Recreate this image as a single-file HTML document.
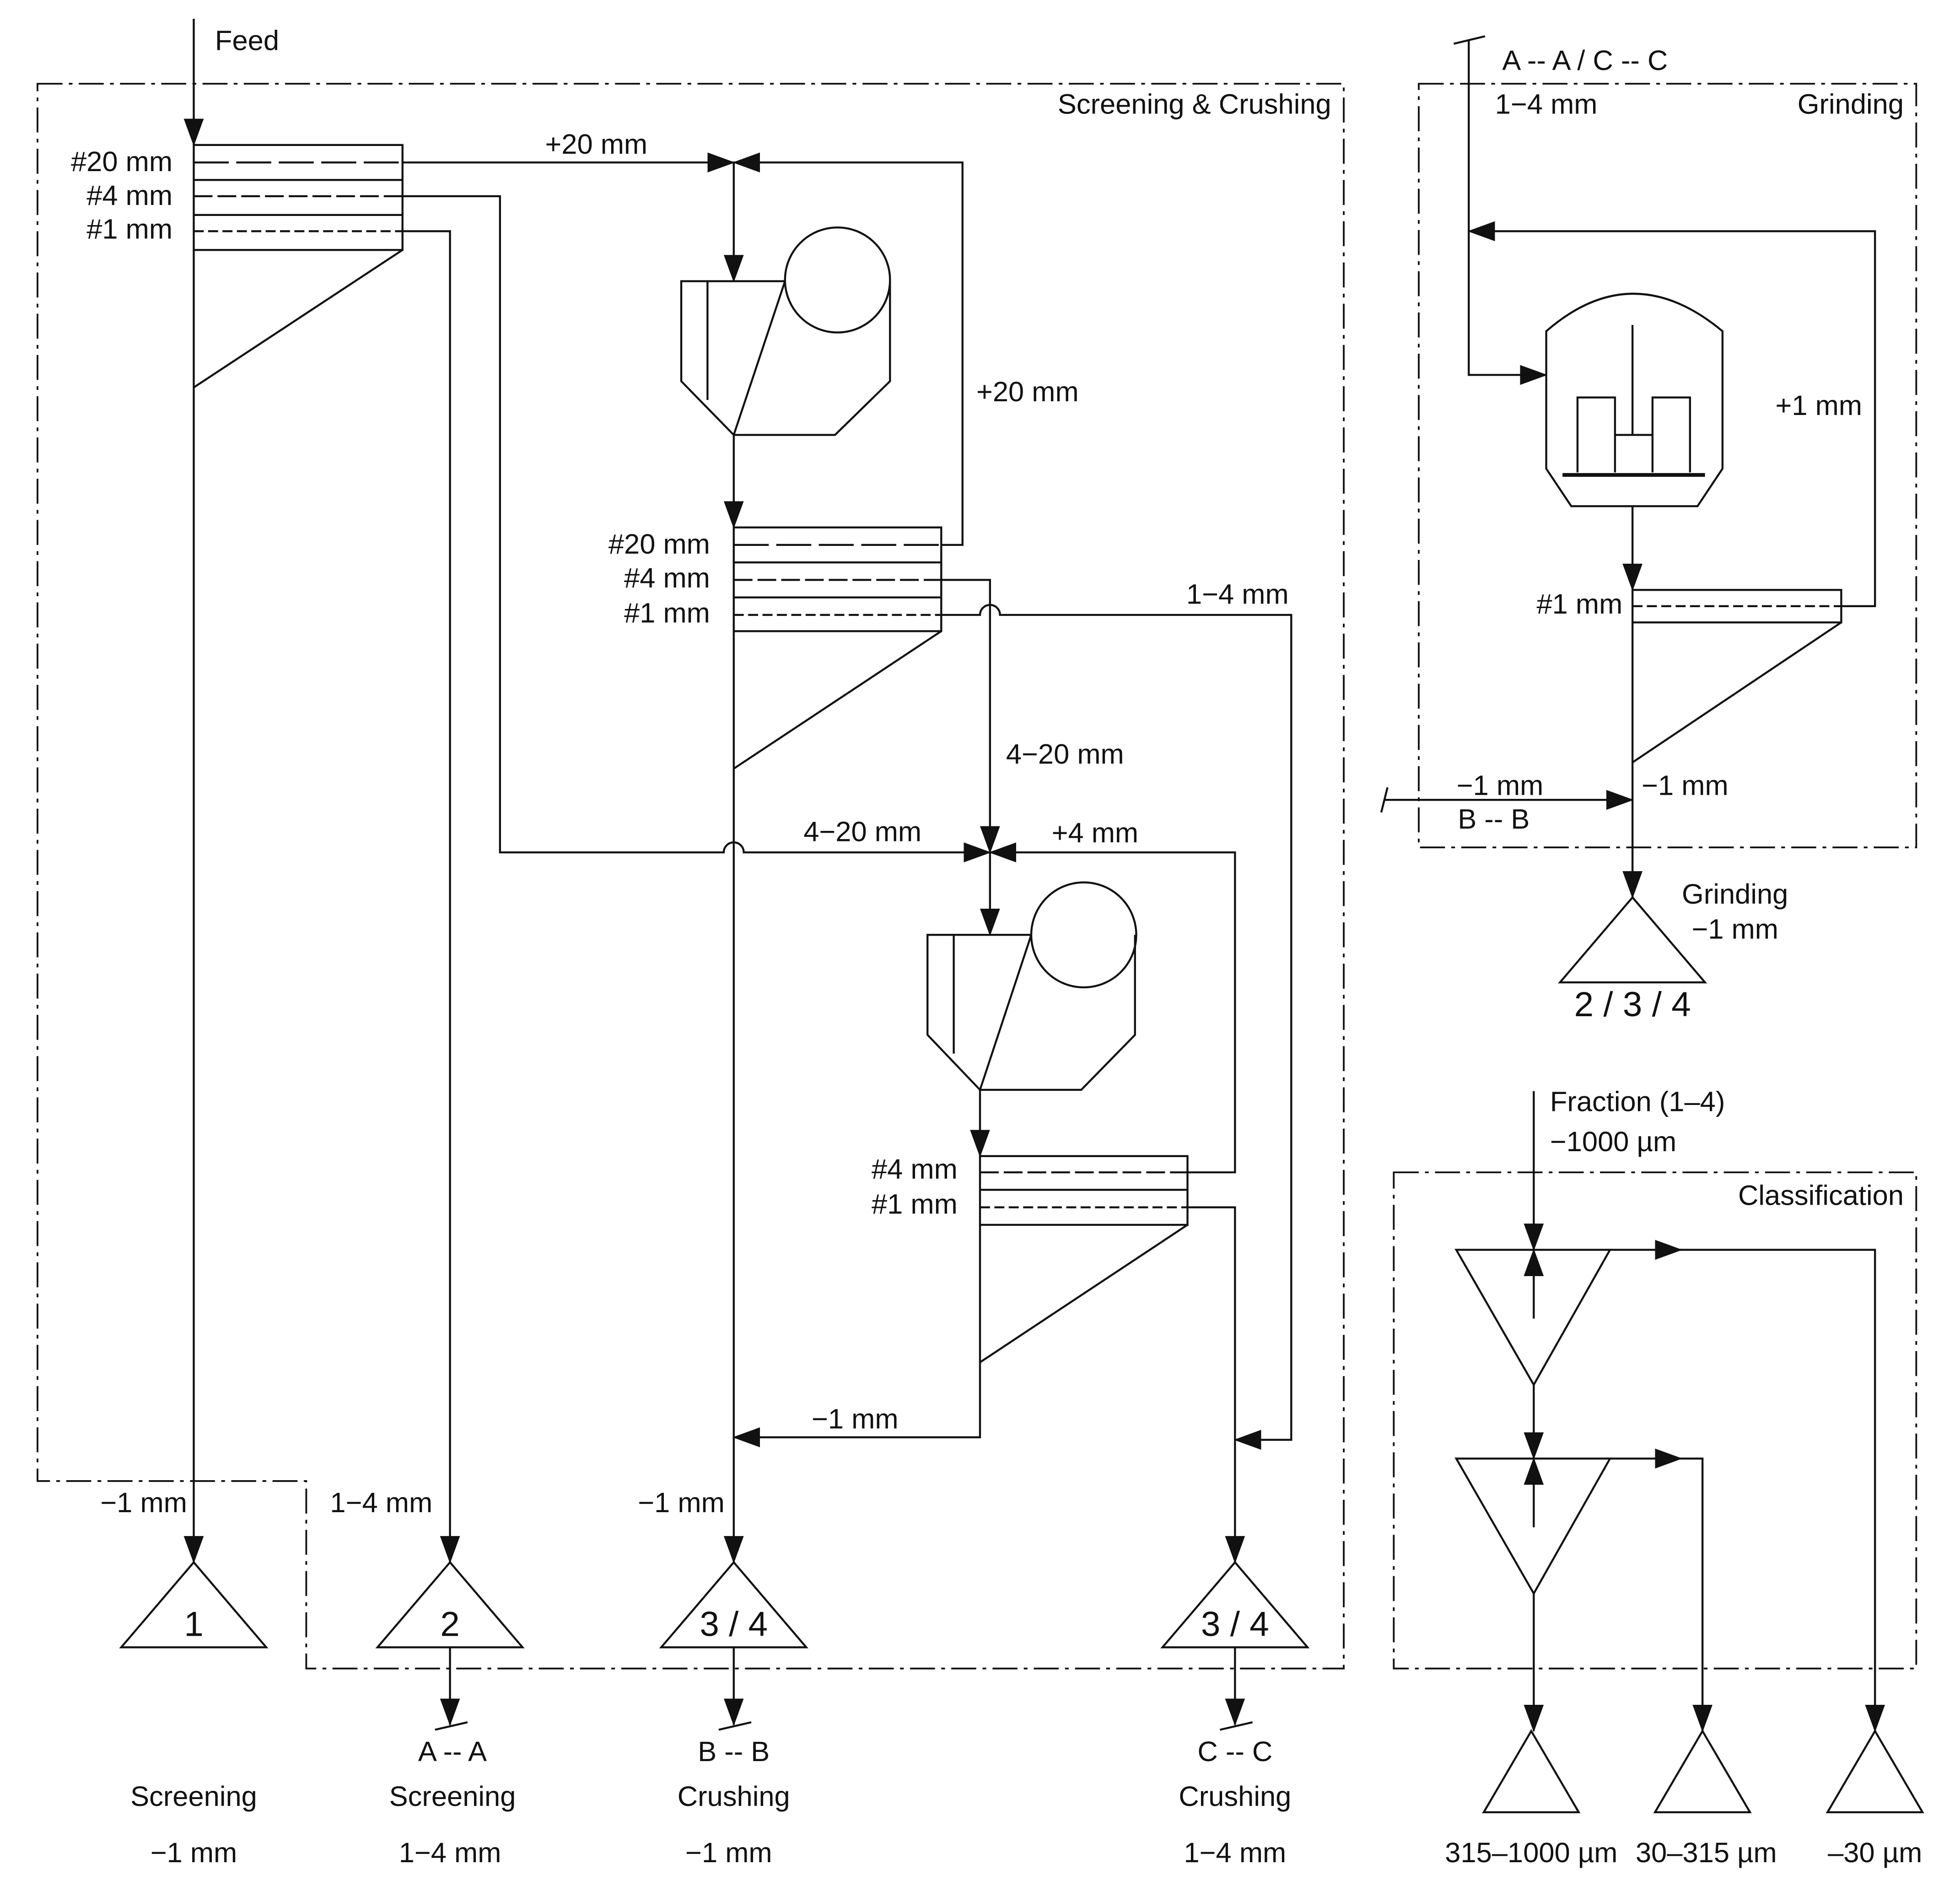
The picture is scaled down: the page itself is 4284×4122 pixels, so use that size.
<!DOCTYPE html>
<html><head><meta charset="utf-8"><style>
html,body{margin:0;padding:0;background:#fff}
svg{display:block}
text{font-family:"Liberation Sans",sans-serif;font-size:22.5px;fill:#111}
.big{font-size:28px}
</style></head><body>
<svg width="4284" height="4122" viewBox="0 0 1568 1509" preserveAspectRatio="none" xmlns="http://www.w3.org/2000/svg">
<defs>
<marker id="a" markerWidth="22" markerHeight="16" refX="21" refY="8" orient="auto" markerUnits="userSpaceOnUse">
<path d="M0,0 L22,8 L0,16 Z" fill="#111"/></marker>
</defs>
<g fill="none" stroke="#111" stroke-width="1.6">
<g stroke-dasharray="20 5 3 5" stroke-width="1.4">
<path d="M30 67 H1075 V1335 H245 V1185 H30 Z"/>
<path d="M1135 67 H1533 V678 H1135 Z"/>
<path d="M1115 938 H1533 V1335 H1115 Z"/>
</g>
<path d="M155 15 V116" marker-end="url(#a)"/>
<rect x="155" y="116" width="167" height="84"/>
<path d="M155 144 H322 M155 172 H322"/>
<path d="M155 130 H322" stroke-dasharray="28 6"/>
<path d="M155 157 H322" stroke-dasharray="15 4"/>
<path d="M155 185 H322" stroke-dasharray="8 3.5"/>
<path d="M322 200 L155 310"/>
<path d="M155 200 V1250" marker-end="url(#a)"/>
<path d="M322 130 H587" marker-end="url(#a)"/>
<path d="M753 436 H770 V130 H587" marker-end="url(#a)"/>
<path d="M587 130 V225" marker-end="url(#a)"/>
<path d="M322 157 H400 V682 H579 A8 8 0 0 1 595 682 H792" marker-end="url(#a)"/>
<path d="M322 185 H360 V1250" marker-end="url(#a)"/>
<path d="M628 225 H545 V305 L587 348 H668 L712 305 V225"/>
<path d="M566 225 V320 M628 225 L587 348"/>
<circle cx="670" cy="224" r="42"/>
<path d="M587 348 V422" marker-end="url(#a)"/>
<rect x="587" y="422" width="166" height="83"/>
<path d="M587 450 H753 M587 478 H753"/>
<path d="M587 436 H753" stroke-dasharray="28 6"/>
<path d="M587 464 H753" stroke-dasharray="15 4"/>
<path d="M587 492 H753" stroke-dasharray="8 3.5"/>
<path d="M753 505 L587 615"/>
<path d="M587 505 V1250" marker-end="url(#a)"/>
<path d="M753 464 H792 V682" marker-end="url(#a)"/>
<path d="M753 492 H784 A8 8 0 0 1 800 492 H1033 V1152 H988" marker-end="url(#a)"/>
<path d="M950 938 H988 V682 H792" marker-end="url(#a)"/>
<path d="M792 682 V748" marker-end="url(#a)"/>
<path d="M825 748 H742 V828 L784 872 H865 L908 828 V748"/>
<path d="M763 748 V843 M825 748 L784 872"/>
<circle cx="867" cy="748" r="42"/>
<path d="M784 872 V925" marker-end="url(#a)"/>
<rect x="784" y="925" width="166" height="55"/>
<path d="M784 952 H950"/>
<path d="M784 938 H950" stroke-dasharray="15 4"/>
<path d="M784 966 H950" stroke-dasharray="8 3.5"/>
<path d="M950 980 L784 1090"/>
<path d="M784 980 V1150 H587" marker-end="url(#a)"/>
<path d="M950 966 H988 V1250" marker-end="url(#a)"/>
<path d="M155 1250 L97 1318 H213 Z"/>
<path d="M360 1250 L302 1318 H418 Z"/>
<path d="M587 1250 L529 1318 H645 Z"/>
<path d="M988 1250 L930 1318 H1046 Z"/>
<path d="M360 1318 V1380" marker-end="url(#a)"/>
<path d="M587 1318 V1380" marker-end="url(#a)"/>
<path d="M988 1318 V1380" marker-end="url(#a)"/>
<path d="M348 1384 L374 1378 M575 1384 L601 1378 M976 1384 L1002 1378"/>
<path d="M1163 35 L1188 29"/>
<path d="M1175 32 V300 H1237" marker-end="url(#a)"/>
<path d="M1473 485 H1500 V185 H1175" marker-end="url(#a)"/>
<path d="M1237 375 V265 Q1306 205 1378 265 V375 L1358 405 H1257 Z"/>
<path d="M1306 260 V348"/>
<path d="M1262 378 V318 H1292 V378 M1322 378 V318 H1352 V378 M1292 348 H1322"/>
<path d="M1250 380 H1364" stroke-width="3"/>
<path d="M1306 405 V472" marker-end="url(#a)"/>
<rect x="1306" y="472" width="167" height="26"/>
<path d="M1306 485 H1473" stroke-dasharray="8 3.5"/>
<path d="M1473 498 L1306 610"/>
<path d="M1306 498 V718" marker-end="url(#a)"/>
<path d="M1105 650 L1110 630"/>
<path d="M1107 640 H1306" marker-end="url(#a)"/>
<path d="M1306 718 L1248 786 H1364 Z"/>
<path d="M1227 873 V1000" marker-end="url(#a)"/>
<path d="M1227 1055 V1000" marker-end="url(#a)"/>
<path d="M1165 1000 H1288 L1227 1108 Z"/>
<path d="M1288 1000 H1345" marker-end="url(#a)"/>
<path d="M1340 1000 H1500 V1385" marker-end="url(#a)"/>
<path d="M1227 1108 V1167" marker-end="url(#a)"/>
<path d="M1227 1222 V1167" marker-end="url(#a)"/>
<path d="M1165 1167 H1288 L1227 1275 Z"/>
<path d="M1288 1167 H1345" marker-end="url(#a)"/>
<path d="M1340 1167 H1362 V1385" marker-end="url(#a)"/>
<path d="M1227 1275 V1385" marker-end="url(#a)"/>
<path d="M1225 1385 L1187 1450 H1263 Z"/>
<path d="M1362 1385 L1324 1450 H1400 Z"/>
<path d="M1500 1385 L1462 1450 H1538 Z"/>
</g>
<g>
<text x="172" y="40">Feed</text>
<text x="1065" y="91" text-anchor="end">Screening &amp; Crushing</text>
<text x="138" y="137" text-anchor="end">#20 mm</text>
<text x="138" y="164" text-anchor="end">#4 mm</text>
<text x="138" y="191" text-anchor="end">#1 mm</text>
<text x="477" y="123" text-anchor="middle">+20 mm</text>
<text x="822" y="321" text-anchor="middle">+20 mm</text>
<text x="568" y="443" text-anchor="end">#20 mm</text>
<text x="568" y="470" text-anchor="end">#4 mm</text>
<text x="568" y="498" text-anchor="end">#1 mm</text>
<text x="990" y="483" text-anchor="middle">1−4 mm</text>
<text x="852" y="611" text-anchor="middle">4−20 mm</text>
<text x="690" y="673" text-anchor="middle">4−20 mm</text>
<text x="876" y="674" text-anchor="middle">+4 mm</text>
<text x="766" y="943" text-anchor="end">#4 mm</text>
<text x="766" y="971" text-anchor="end">#1 mm</text>
<text x="684" y="1143" text-anchor="middle">−1 mm</text>
<text x="115" y="1210" text-anchor="middle">−1 mm</text>
<text x="305" y="1210" text-anchor="middle">1−4 mm</text>
<text x="545" y="1210" text-anchor="middle">−1 mm</text>
<text x="155" y="1309" text-anchor="middle" class="big">1</text>
<text x="360" y="1309" text-anchor="middle" class="big">2</text>
<text x="587" y="1309" text-anchor="middle" class="big">3 / 4</text>
<text x="988" y="1309" text-anchor="middle" class="big">3 / 4</text>
<text x="362" y="1409" text-anchor="middle">A -- A</text>
<text x="587" y="1409" text-anchor="middle">B -- B</text>
<text x="988" y="1409" text-anchor="middle">C -- C</text>
<text x="155" y="1445" text-anchor="middle">Screening</text>
<text x="362" y="1445" text-anchor="middle">Screening</text>
<text x="587" y="1445" text-anchor="middle">Crushing</text>
<text x="988" y="1445" text-anchor="middle">Crushing</text>
<text x="155" y="1490" text-anchor="middle">−1 mm</text>
<text x="360" y="1490" text-anchor="middle">1−4 mm</text>
<text x="583" y="1490" text-anchor="middle">−1 mm</text>
<text x="988" y="1490" text-anchor="middle">1−4 mm</text>
<text x="1268" y="56" text-anchor="middle">A -- A / C -- C</text>
<text x="1237" y="91" text-anchor="middle">1−4 mm</text>
<text x="1523" y="91" text-anchor="end">Grinding</text>
<text x="1455" y="332" text-anchor="middle">+1 mm</text>
<text x="1298" y="491" text-anchor="end">#1 mm</text>
<text x="1200" y="636" text-anchor="middle">−1 mm</text>
<text x="1195" y="663" text-anchor="middle">B -- B</text>
<text x="1348" y="636" text-anchor="middle">−1 mm</text>
<text x="1388" y="723" text-anchor="middle">Grinding</text>
<text x="1388" y="751" text-anchor="middle">−1 mm</text>
<text x="1306" y="813" text-anchor="middle" class="big">2 / 3 / 4</text>
<text x="1240" y="889">Fraction (1–4)</text>
<text x="1240" y="921">−1000 µm</text>
<text x="1523" y="964" text-anchor="end">Classification</text>
<text x="1225" y="1490" text-anchor="middle">315–1000 µm</text>
<text x="1365" y="1490" text-anchor="middle">30–315 µm</text>
<text x="1500" y="1490" text-anchor="middle">–30 µm</text>
</g>
</svg>
</body></html>
